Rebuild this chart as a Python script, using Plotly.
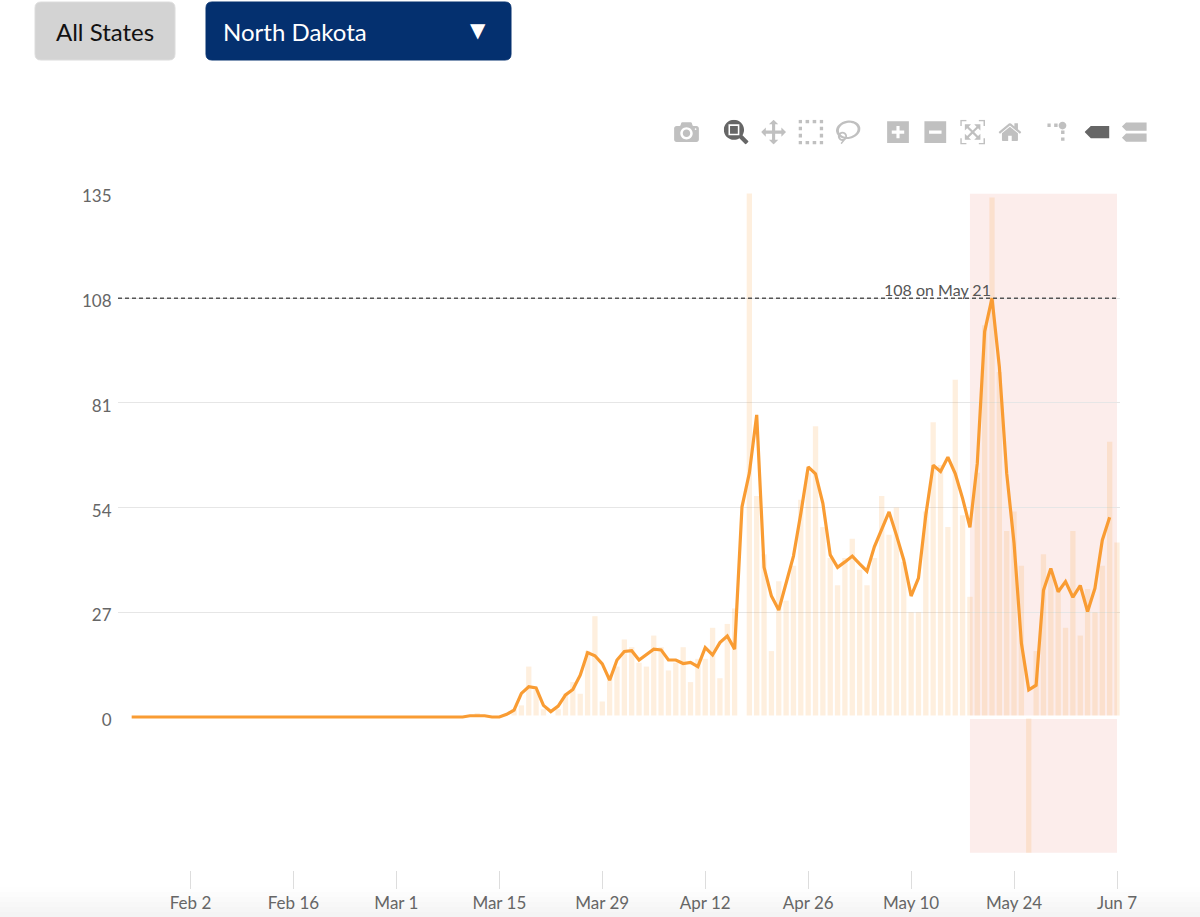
import pandas as pd
import plotly.graph_objects as go

# ---------- DATA ----------
start_date = "2020-01-25"

# 3-day average, Jan 25 to Jun 6
avg_cases = ([0] * 46 + [
    0.33, 0.33, 0.33, 0, 0, 0.7, 1.8, 6.1, 7.8, 7.5, 3, 1.4, 2.8, 5.7, 7.1, 10.8,
    16.6, 15.8, 13.7, 9.5, 14.7, 16.9, 17.1, 14.7, 16.2, 17.5, 17.3, 14.7, 14.7,
    13.8, 14.1, 13, 17.9, 16, 19.2, 20.9, 17.5,
    54.2, 62.9, 77.9, 38.6, 31.2, 27.6, 34.5, 41.5, 52.5, 64.5, 62.7, 55.1, 41.8,
    38.6, 40, 41.5, 39.5, 37.6, 43.9, 48.2, 52.9, 46.9, 40.5, 31.2, 35.8, 52.1,
    64.9, 63.3, 67, 62.8, 56.4, 48.9, 65.4, 99.4, 108, 90.3, 62.8, 44.8, 19, 7,
    8.2, 32.7, 38.3, 32.3, 34.9, 30.9, 33.9, 27.2, 33.2, 45.6, 51.5,
])

# daily cases, Jan 25 to Jun 7
daily_cases = ([0] * 47 + [
    1, 0, 0, 0, 0, 2, 3, 13, 7, 2, 0, 2, 6, 9, 6, 17, 26, 4, 11, 13, 20, 18, 14,
    13, 21, 18, 12, 14, 18, 9, 15, 15, 23, 10, 24, 28, 0, 136, 57, 42, 17, 35, 30,
    39, 56, 63, 75, 49, 41, 34, 41, 46, 38, 34, 41, 57, 47, 54, 40, 27, 27, 53, 76,
    65, 49, 87, 52, 31, 63, 101, 134, 89, 48, 53, 39, -35, 17, 42, 37, 33, 23, 48,
    21, 33, 27, 39, 71, 45,
])

y_ticks = [0, 27, 54, 81, 108, 135]
peak_value = 108
peak_date = "2020-05-21"
peak_label = "108 on May 21"
band_start = "2020-05-18"
band_end = "2020-06-07"
band_low = -35
band_high = 135

# ---------- LAYOUT HELPERS ----------
W, H = 1200, 917
FONT = "Lato"
TEXT = "#666666"
FADE_GREYS = ["#fefefe", "#fcfcfc", "#fafafa", "#f8f8f8", "#f6f6f6", "#f4f4f4"]


def px(x):
    return x / W


def py(y):
    return 1 - y / H


def rounded_box(x0, y0, x1, y1, r):
    return (
        f"M {px(x0 + r)} {py(y0)} L {px(x1 - r)} {py(y0)} Q {px(x1)} {py(y0)} {px(x1)} {py(y0 + r)} "
        f"L {px(x1)} {py(y1 - r)} Q {px(x1)} {py(y1)} {px(x1 - r)} {py(y1)} "
        f"L {px(x0 + r)} {py(y1)} Q {px(x0)} {py(y1)} {px(x0)} {py(y1 - r)} "
        f"L {px(x0)} {py(y0 + r)} Q {px(x0)} {py(y0)} {px(x0 + r)} {py(y0)} Z"
    )


# ---------- BUILD FIGURE ----------
avg_dates = pd.date_range(start_date, periods=len(avg_cases)).strftime("%Y-%m-%d").tolist()
bar_dates = pd.date_range(start_date, periods=len(daily_cases)).strftime("%Y-%m-%d").tolist()

fig = go.Figure()

fig.add_trace(go.Bar(
    x=bar_dates, y=daily_cases, name="Daily",
    marker=dict(color="#f99c33", opacity=0.16, line=dict(width=0)),
))
fig.add_trace(go.Scatter(
    x=avg_dates, y=avg_cases, name="Average", mode="lines",
    line=dict(color="#f99c33", width=3.2),
))

# grey fade at the bottom edge of the page
for i, grey in enumerate(FADE_GREYS):
    fig.add_shape(type="rect", xref="paper", yref="paper", x0=0, x1=1,
                  y0=py(917), y1=py(887 + i * 5), fillcolor=grey, line_width=0, layer="below")

# red band, peak marker, white cut along zero
fig.add_shape(type="rect", xref="x", yref="y", x0=band_start, x1=band_end, y0=band_low, y1=band_high,
              fillcolor="rgba(225,90,70,0.11)", line_width=0, layer="below")
fig.add_shape(type="line", xref="paper", yref="y", x0=px(118), x1=px(1117), y0=peak_value, y1=peak_value,
              line=dict(color="#555555", width=1.5, dash="4px,3px"), layer="above")
fig.add_shape(type="line", xref="x", yref="y", x0="2020-03-16 12:00", x1="2020-06-07 12:00", y0=0, y1=0,
              line=dict(color="white", width=3), layer="above")

# the two page controls above the chart
fig.add_shape(type="path", xref="paper", yref="paper", path=rounded_box(35, 2, 175, 60, 6),
              fillcolor="#d3d3d3", line=dict(color="#dcdcdc", width=1))
fig.add_shape(type="path", xref="paper", yref="paper", path=rounded_box(206, 2, 511, 60, 6),
              fillcolor="#04306f", line=dict(color="#04306f", width=1))

fig.add_annotation(x=peak_date, y=peak_value, xref="x", yref="y", text=peak_label, showarrow=False,
                   xanchor="right", yanchor="bottom", yshift=-3, xshift=1,
                   font=dict(family=FONT, size=16, color="#555555"))
fig.add_annotation(x=px(105), y=py(31), xref="paper", yref="paper", text="All States", showarrow=False,
                   xanchor="center", yanchor="middle",
                   font=dict(family=FONT, size=24, color="#111111"))
fig.add_annotation(x=px(221), y=py(32), xref="paper", yref="paper", text="North Dakota", showarrow=False,
                   xanchor="left", yanchor="middle",
                   font=dict(family=FONT, size=24, color="white"))
fig.add_annotation(x=px(478), y=py(30), xref="paper", yref="paper", text="▼", showarrow=False,
                   xanchor="center", yanchor="middle",
                   font=dict(family="DejaVu Sans", size=20, color="white"))

fig.update_layout(
    width=W, height=H,
    margin=dict(l=0, r=0, t=0, b=0),
    paper_bgcolor="white", plot_bgcolor="white",
    showlegend=False,
    bargap=0.28,
    hovermode="closest",
    dragmode="zoom",
    modebar=dict(bgcolor="rgba(0,0,0,0)", color="#c0c0c0", activecolor="#666666"),
    xaxis=dict(
        type="date", automargin=False,
        domain=[118 / W, 1120 / W],
        range=["2020-01-23 03:22", "2020-06-07 09:47"],
        tick0="2020-02-02", dtick=14 * 86400000, tickformat="%b %-d",
        ticks="outside", ticklen=18, tickwidth=1, tickcolor="#dddddd",
        showgrid=False, showline=False, zeroline=False,
        tickfont=dict(family=FONT, size=17, color=TEXT),
    ),
    yaxis=dict(
        automargin=False,
        domain=[(H - 870) / H, (H - 193.5) / H],
        range=[-39.45, 135],
        tickvals=y_ticks,
        ticks="outside", ticklen=2, tickcolor="rgba(0,0,0,0)",
        ticklabelshift=3,
        showgrid=True, gridcolor="#e6e6e6", gridwidth=1,
        zeroline=True, zerolinecolor="white", zerolinewidth=3,
        showline=False,
        tickfont=dict(family=FONT, size=17, color=TEXT),
    ),
)

config = dict(
    displayModeBar=True, displaylogo=False,
    modeBarButtons=[
        ["toImage"],
        ["zoom2d", "pan2d", "select2d", "lasso2d"],
        ["zoomIn2d", "zoomOut2d", "autoScale2d", "resetScale2d"],
        ["toggleSpikelines", "hoverClosestCartesian", "hoverCompareCartesian"],
    ],
)

# page margin off, modebar moved down and enlarged as on the source page
post = """
document.body.style.margin = '0';
document.body.style.overflow = 'hidden';
var s = document.createElement('style');
s.textContent = '.modebar{top:115px !important;right:47px !important;transform:scale(1.555);transform-origin:right top;}';
document.head.appendChild(s);
"""

fig.write_html("out.html", config=config, post_script=post)
